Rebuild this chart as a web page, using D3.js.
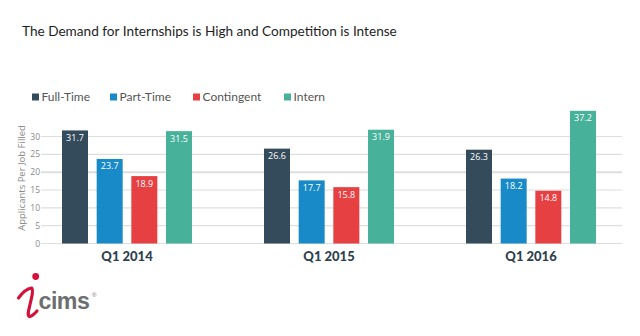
<!DOCTYPE html>
<html>
<head>
<meta charset="utf-8">
<script src="https://cdn.jsdelivr.net/npm/d3@7/dist/d3.min.js"></script>
<style>
  html, body { margin: 0; padding: 0; background: #fff; }
  svg { display: block; }
</style>
</head>
<body>
<script>
// Applicants per job filled, by quarter and job type
const quarters = ["Q1 2014", "Q1 2015", "Q1 2016"];
const jobTypes = ["Full-Time", "Part-Time", "Contingent", "Intern"];
const fullTime = [31.7, 26.6, 26.3];
const partTime = [23.7, 17.7, 18.2];
const contingent = [18.9, 15.8, 14.8];
const intern = [31.5, 31.9, 37.2];
const yTicks = [0, 5, 10, 15, 20, 25, 30];
const colors = ["#344b5b", "#188ac7", "#e64043", "#47b19a"];

const seriesValues = [fullTime, partTime, contingent, intern];
const rows = quarters.map((q, i) => ({
  quarter: q,
  values: jobTypes.map((t, j) => ({ type: t, value: seriesValues[j][i] }))
}));

const W = 640, H = 336;
const svg = d3.select("body").append("svg").attr("width", W).attr("height", H);

// scale a text's font size so it spans a given width
function fitWidth(sel, target) {
  const node = sel.node();
  const fs = parseFloat(sel.attr("font-size"));
  const w = node.getComputedTextLength();
  if (w > 0) sel.attr("font-size", (fs * target / w).toFixed(2));
}

// Title
const title = svg.append("text")
  .attr("x", 22).attr("y", 36)
  .attr("font-family", "Lato, sans-serif")
  .attr("font-size", 16)
  .attr("fill", "#1e1e1e")
  .text("The Demand for Internships is High and Competition is Intense");
fitWidth(title, 375);

// Legend
const legendX = [32, 110, 193, 284];
const legend = svg.append("g");
jobTypes.forEach((t, i) => {
  const g = legend.append("g").attr("transform", `translate(${legendX[i]},97)`);
  g.append("rect").attr("x", 0).attr("y", -3.5).attr("width", 7).attr("height", 7).attr("fill", colors[i]);
  g.append("text").attr("x", 9.5).attr("y", 4.2)
    .attr("font-family", "Lato, sans-serif").attr("font-size", 12)
    .attr("fill", "#555").text(t);
});

// Scales
const y = d3.scaleLinear().domain([0, 30]).range([243.5, 136.5]);
const x0 = d3.scaleBand().domain(quarters).range([26, 632]).padding(0);
const x1 = d3.scaleBand().domain(jobTypes).range([36, 166]).paddingInner(0.25).paddingOuter(0);

// Gridlines
svg.append("g").selectAll("line").data(yTicks).join("line")
  .attr("x1", 41).attr("x2", 622)
  .attr("y1", d => y(d)).attr("y2", d => y(d))
  .attr("stroke", "#dedede").attr("stroke-width", d => d === 20 ? 2 : 1.2);

// Y tick labels
svg.append("g").selectAll("text").data(yTicks).join("text")
  .attr("x", 40).attr("y", d => y(d) + 3)
  .attr("text-anchor", "end")
  .attr("font-family", "Open Sans, sans-serif").attr("font-size", 8.5)
  .attr("fill", "#888").text(d => d);

// Y axis title
svg.append("text")
  .attr("transform", "translate(25,178) rotate(-90)")
  .attr("text-anchor", "middle")
  .attr("font-family", "Open Sans, sans-serif").attr("font-size", 9.5)
  .attr("fill", "#888").text("Applicants Per Job Filled");

// Bars
const groups = svg.append("g").selectAll("g").data(rows).join("g")
  .attr("transform", d => `translate(${x0(d.quarter)},0)`);

groups.selectAll("rect").data(d => d.values).join("rect")
  .attr("x", d => x1(d.type))
  .attr("width", x1.bandwidth())
  .attr("y", d => y(d.value))
  .attr("height", d => y(0) - y(d.value))
  .attr("fill", (d, i) => colors[i]);

groups.selectAll("text.val").data(d => d.values).join("text")
  .attr("class", "val")
  .attr("x", d => x1(d.type) + x1.bandwidth() / 2)
  .attr("y", d => y(d.value) + 10.5)
  .attr("text-anchor", "middle")
  .attr("font-family", "Open Sans, sans-serif").attr("font-size", 9)
  .attr("fill", "#fff").text(d => d.value.toFixed(1));

// Quarter labels
groups.append("text")
  .attr("x", x0.bandwidth() / 2)
  .attr("y", 261)
  .attr("text-anchor", "middle")
  .attr("font-family", "Lato, sans-serif").attr("font-weight", 900).attr("font-size", 13)
  .attr("fill", "#2e3f4e").text(d => d.quarter);

// iCIMS logo
const logo = svg.append("g");
logo.append("circle").attr("cx", 35.7).attr("cy", 276.5).attr("r", 3.4).attr("fill", "#d3123c");
logo.append("path")
  .attr("d", "M18.5,298 Q25,289 31.5,288 Q33.5,289 31.5,298 L28.5,311 Q27.5,317 30,316.5 Q33,315.5 37,311")
  .attr("fill", "none").attr("stroke", "#d3123c").attr("stroke-width", 3.2)
  .attr("stroke-linecap", "round").attr("stroke-linejoin", "round");
const cims = logo.append("text")
  .attr("x", 38.5).attr("y", 309.3)
  .attr("font-family", "Liberation Sans, Arial, sans-serif").attr("font-weight", "bold")
  .attr("font-size", 25).attr("letter-spacing", -0.5)
  .attr("fill", "#6d6e70").text("cims");
fitWidth(cims, 51);
logo.append("text")
  .attr("x", 92).attr("y", 297)
  .attr("font-family", "Liberation Sans, Arial, sans-serif")
  .attr("font-size", 6).attr("fill", "#6d6e70").text("®");
</script>
</body>
</html>
